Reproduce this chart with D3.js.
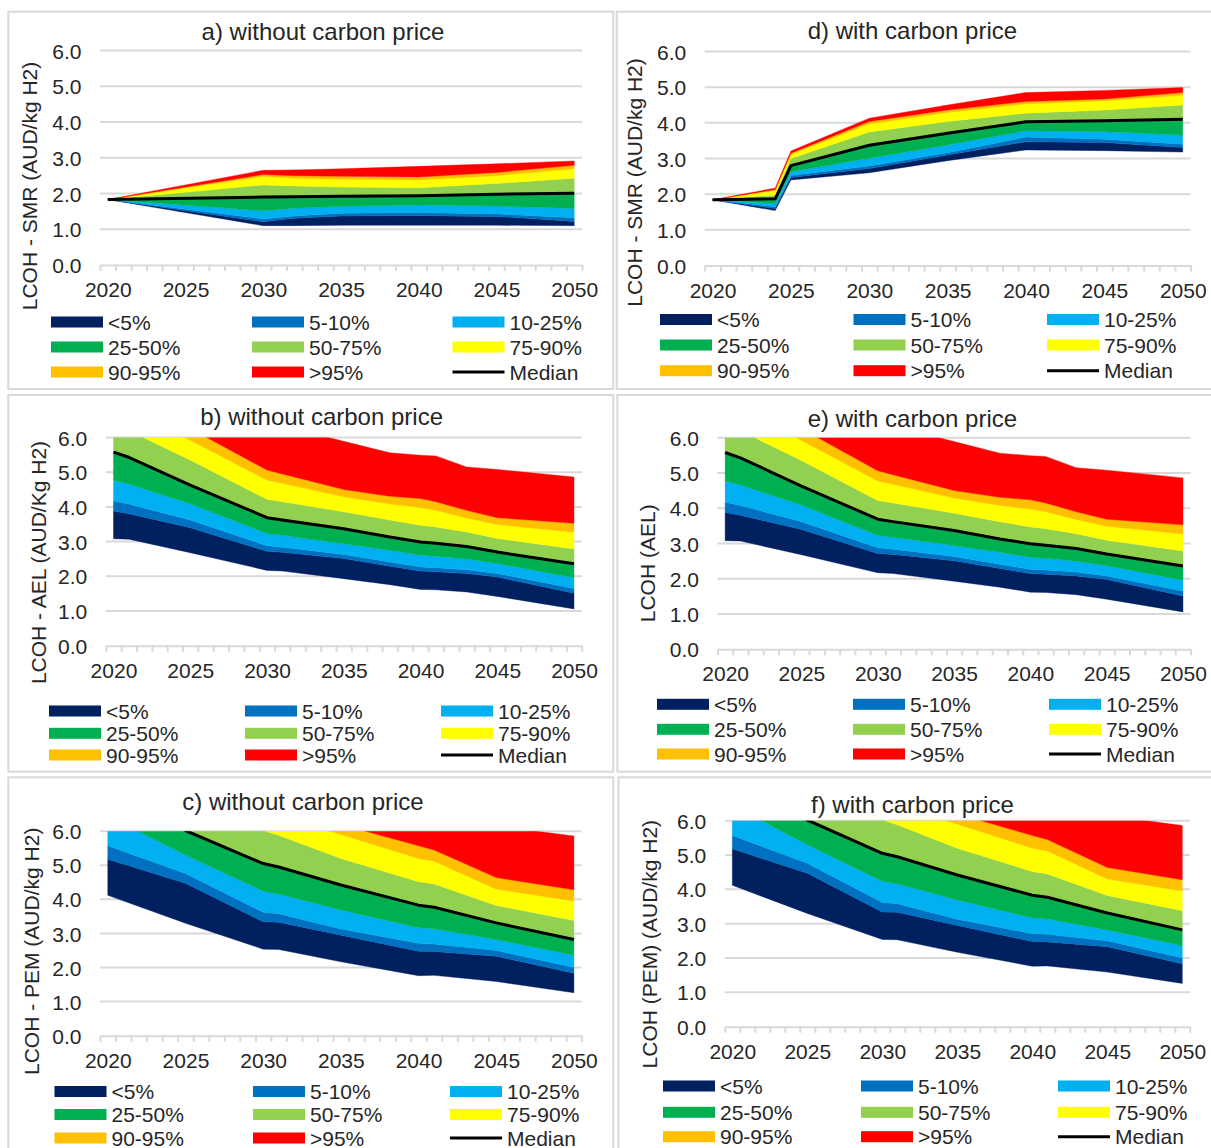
<!DOCTYPE html>
<html>
<head>
<meta charset="utf-8">
<script src="https://cdn.jsdelivr.net/npm/d3@7"></script>
<style>
  html, body { margin: 0; padding: 0; background: #fff; }
  svg { display: block; font-family: "Liberation Sans", Arial, sans-serif; }
</style>
</head>
<body>
<svg id="chart" width="1211" height="1148"></svg>
<script>
// Percentile bands (stacked between consecutive levels) and their colours
const bandLabels = ["<5%", "5-10%", "10-25%", "25-50%", "50-75%", "75-90%", "90-95%", ">95%"];
const bandColors = ["#002060", "#0070C0", "#00B0F0", "#00B050", "#92D050", "#FFFF00", "#FFC000", "#FF0000"];
const yTicks = [0, 1, 2, 3, 4, 5, 6];
const xLabelYears = [2020, 2025, 2030, 2035, 2040, 2045, 2050];

// LCOH, SMR without carbon price (AUD/kg H2); rows: min, p5, p10, p25, p50, p75, p90, p95, max
const smrYears = [2020, 2030, 2032, 2035, 2040, 2045, 2050];
const smrLevels = [
  [1.83, 1.10, 1.10, 1.11, 1.11, 1.11, 1.10],
  [1.83, 1.21, 1.31, 1.37, 1.38, 1.36, 1.22],
  [1.83, 1.29, 1.37, 1.45, 1.47, 1.43, 1.32],
  [1.83, 1.52, 1.59, 1.64, 1.68, 1.65, 1.58],
  [1.83, 1.90, 1.91, 1.92, 1.94, 1.98, 2.01],
  [1.83, 2.24, 2.21, 2.18, 2.16, 2.28, 2.43],
  [1.83, 2.48, 2.43, 2.40, 2.38, 2.50, 2.69],
  [1.83, 2.53, 2.50, 2.48, 2.46, 2.59, 2.79],
  [1.83, 2.65, 2.66, 2.69, 2.76, 2.83, 2.91]
];

// LCOH, SMR with carbon price
const smrCarbonYears = [2020, 2024, 2025, 2030, 2035, 2040, 2045, 2050];
const smrCarbonLevels = [
  [1.84, 1.54, 2.40, 2.60, 2.94, 3.24, 3.22, 3.18],
  [1.84, 1.60, 2.47, 2.72, 3.10, 3.47, 3.45, 3.31],
  [1.84, 1.65, 2.52, 2.79, 3.16, 3.60, 3.54, 3.40],
  [1.84, 1.74, 2.63, 3.01, 3.38, 3.78, 3.75, 3.66],
  [1.84, 1.87, 2.80, 3.37, 3.71, 4.03, 4.06, 4.10],
  [1.84, 1.98, 3.00, 3.74, 4.04, 4.27, 4.36, 4.50],
  [1.84, 2.10, 3.11, 3.97, 4.29, 4.53, 4.62, 4.77],
  [1.84, 2.13, 3.15, 4.04, 4.36, 4.60, 4.67, 4.85],
  [1.84, 2.17, 3.21, 4.13, 4.50, 4.85, 4.91, 4.99]
];

// LCOH, alkaline electrolysis (same with and without carbon price)
const aelYears = [2020, 2021, 2025, 2030, 2031, 2035, 2038, 2040, 2041, 2043, 2045, 2050];
const aelLevels = [
  [3.08, 3.07, 2.68, 2.17, 2.15, 1.93, 1.76, 1.62, 1.61, 1.55, 1.42, 1.06],
  [3.88, 3.80, 3.40, 2.72, 2.69, 2.51, 2.29, 2.15, 2.13, 2.08, 1.98, 1.51],
  [4.17, 4.08, 3.62, 2.88, 2.84, 2.63, 2.41, 2.27, 2.25, 2.19, 2.08, 1.65],
  [4.77, 4.66, 4.09, 3.23, 3.18, 2.94, 2.75, 2.61, 2.58, 2.50, 2.37, 1.96],
  [5.58, 5.43, 4.63, 3.69, 3.62, 3.37, 3.13, 2.99, 2.95, 2.86, 2.70, 2.36],
  [6.40, 6.20, 5.35, 4.22, 4.15, 3.86, 3.62, 3.47, 3.42, 3.28, 3.09, 2.79],
  [7.00, 6.80, 5.92, 4.77, 4.68, 4.29, 4.08, 3.98, 3.90, 3.68, 3.49, 3.27],
  [7.40, 7.20, 6.26, 5.06, 4.95, 4.50, 4.31, 4.24, 4.15, 3.90, 3.69, 3.53],
  [8.40, 8.20, 7.30, 6.44, 6.33, 5.89, 5.56, 5.49, 5.47, 5.15, 5.08, 4.86]
];

// LCOH, PEM electrolysis (same with and without carbon price)
const pemYears = [2020, 2025, 2030, 2031, 2035, 2040, 2041, 2045, 2050];
const pemLevels = [
  [4.12, 3.30, 2.54, 2.53, 2.17, 1.76, 1.77, 1.59, 1.26],
  [5.18, 4.47, 3.34, 3.33, 2.95, 2.48, 2.47, 2.33, 1.83],
  [5.57, 4.76, 3.62, 3.58, 3.13, 2.71, 2.69, 2.50, 2.00],
  [6.45, 5.30, 4.24, 4.16, 3.69, 3.17, 3.14, 2.82, 2.36],
  [7.10, 6.02, 5.05, 4.95, 4.42, 3.83, 3.77, 3.31, 2.82],
  [7.80, 6.90, 6.02, 5.88, 5.20, 4.52, 4.45, 3.82, 3.38],
  [8.20, 7.40, 6.56, 6.45, 5.90, 5.20, 5.12, 4.30, 3.95],
  [9.00, 8.00, 7.00, 6.90, 6.20, 5.57, 5.45, 4.64, 4.28],
  [9.50, 8.80, 8.00, 7.90, 7.40, 6.70, 6.60, 6.15, 5.86]
];

// Panel layout: frame, plot area, title, axis title and legend placement
const panels = [
  { id: "a", title: "a) without carbon price", yTitle: "LCOH - SMR (AUD/kg H2)", years: smrYears, levels: smrLevels,
    box: [8.3, 11.7, 613.3, 389], plot: [100, 50.5, 582, 265], titleXY: [323, 31.5], yTitleXY: [29.5, 186],
    legendCols: [51, 252, 452.5], legendRows: [322, 347, 372] },
  { id: "d", title: "d) with carbon price", yTitle: "LCOH - SMR (AUD/kg H2)", years: smrCarbonYears, levels: smrCarbonLevels,
    box: [616.7, 11.7, 1214, 389], plot: [704.7, 51.5, 1190.6, 265.5], titleXY: [912.4, 30.7], yTitleXY: [634, 182.5],
    legendCols: [660, 853.5, 1047], legendRows: [319.5, 345, 370.7] },
  { id: "b", title: "b) without carbon price", yTitle: "LCOH - AEL (AUD/Kg H2)", years: aelYears, levels: aelLevels,
    box: [8.3, 395, 613.3, 771.7], plot: [105.8, 437.5, 581.7, 645.7], titleXY: [321.6, 416.7], yTitleXY: [38, 562.5],
    legendCols: [49, 245, 441], legendRows: [711, 733.3, 755] },
  { id: "e", title: "e) with carbon price", yTitle: "LCOH (AEL)", years: aelYears, levels: aelLevels,
    box: [617.4, 395, 1214, 771.7], plot: [717.5, 437.7, 1190.6, 649.3], titleXY: [912.4, 418.3], yTitleXY: [647.5, 563.3],
    legendCols: [657, 853, 1049], legendRows: [704.3, 729.3, 754] },
  { id: "c", title: "c) without carbon price", yTitle: "LCOH - PEM (AUD/kg H2)", years: pemYears, levels: pemLevels,
    box: [8.3, 777.3, 613.3, 1152], plot: [100, 831.2, 581.7, 1035.7], titleXY: [303, 801.7], yTitleXY: [31, 951.3],
    legendCols: [54.5, 253, 450], legendRows: [1091.5, 1114.5, 1138] },
  { id: "f", title: "f) with carbon price", yTitle: "LCOH (PEM) (AUD/kg H2)", years: pemYears, levels: pemLevels,
    box: [618.5, 777.3, 1214, 1152], plot: [724.8, 820.7, 1189.8, 1026.7], titleXY: [912.4, 804.3], yTitleXY: [649.5, 944.2],
    legendCols: [663, 861, 1058], legendRows: [1086, 1112.3, 1136.7] }
];

const textColor = "#262626";
const gridColor = "#d9d9d9";
const svg = d3.select("#chart");
const defs = svg.append("defs");

panels.forEach(drawPanel);

function drawPanel(p) {
  const g = svg.append("g").attr("class", "panel-" + p.id);
  const [left, top, right, bottom] = p.plot;

  // chart frame
  g.append("rect")
    .attr("x", p.box[0]).attr("y", p.box[1])
    .attr("width", p.box[2] - p.box[0]).attr("height", p.box[3] - p.box[1])
    .attr("fill", "none").attr("stroke", gridColor).attr("stroke-width", 2);

  // category-style year axis: each year sits in the middle of its slot
  const x = d3.scaleLinear().domain([2019.5, 2050.5]).range([left, right]);
  const y = d3.scaleLinear().domain([0, 6]).range([bottom, top]);

  // horizontal gridlines
  g.append("g").selectAll("line")
    .data(yTicks.filter(v => v > 0))
    .join("line")
    .attr("x1", left).attr("x2", right)
    .attr("y1", d => y(d)).attr("y2", d => y(d))
    .attr("stroke", gridColor).attr("stroke-width", 2);

  // clip the bands to the value range 0-6
  const clipId = "clip-" + p.id;
  defs.append("clipPath").attr("id", clipId)
    .append("rect").attr("x", left).attr("y", top)
    .attr("width", right - left).attr("height", bottom - top);

  const rows = p.years.map((yr, i) => ({ year: yr, v: p.levels.map(level => level[i]) }));
  const plotG = g.append("g").attr("clip-path", `url(#${clipId})`);

  bandColors.forEach((color, b) => {
    const area = d3.area()
      .x(d => x(d.year))
      .y0(d => y(d.v[b]))
      .y1(d => y(d.v[b + 1]));
    plotG.append("path").datum(rows)
      .attr("d", area)
      .attr("fill", color)
      .attr("stroke", color).attr("stroke-width", 0.4);
  });

  // median line
  const medianLine = d3.line().x(d => x(d.year)).y(d => y(d.v[4]));
  plotG.append("path").datum(rows)
    .attr("d", medianLine)
    .attr("fill", "none").attr("stroke", "#000").attr("stroke-width", 3)
    .attr("stroke-linejoin", "round");

  // x axis: tick marks between years, labels every five years
  const xTickAxis = d3.axisBottom(x)
    .tickValues(d3.range(2019.5, 2051, 1))
    .tickSize(6).tickSizeOuter(0).tickFormat("");
  g.append("g").attr("transform", `translate(0,${y(0)})`)
    .call(xTickAxis)
    .call(a => {
      a.select(".domain").attr("stroke", gridColor).attr("stroke-width", 2);
      a.selectAll(".tick line").attr("stroke", gridColor).attr("stroke-width", 2);
    });

  const xLabelAxis = d3.axisBottom(x)
    .tickValues(xLabelYears).tickSize(0).tickFormat(d3.format("d"));
  g.append("g").attr("transform", `translate(0,${y(0)})`)
    .call(xLabelAxis)
    .call(a => {
      a.select(".domain").remove();
      a.attr("font-size", null).attr("font-family", null);
      a.selectAll("text")
        .attr("y", 24.5).attr("dy", "0.36em")
        .attr("fill", textColor).style("font-size", "21px");
    });

  // y axis labels
  const yAxis = d3.axisLeft(y)
    .tickValues(yTicks).tickSize(0).tickPadding(18.5)
    .tickFormat(d3.format(".1f"));
  g.append("g").attr("transform", `translate(${left},0)`)
    .call(yAxis)
    .call(a => {
      a.select(".domain").remove();
      a.attr("font-size", null).attr("font-family", null);
      a.selectAll("text").attr("dy", "0.36em")
        .attr("fill", textColor).style("font-size", "21px");
    });

  // chart title
  g.append("text")
    .attr("x", p.titleXY[0]).attr("y", p.titleXY[1]).attr("dy", "0.36em")
    .attr("text-anchor", "middle").attr("fill", textColor)
    .style("font-size", "24px")
    .text(p.title);

  // y axis title
  g.append("text")
    .attr("transform", `translate(${p.yTitleXY[0]},${p.yTitleXY[1]}) rotate(-90)`)
    .attr("dy", "0.36em")
    .attr("text-anchor", "middle").attr("fill", textColor)
    .style("font-size", "21px")
    .text(p.yTitle);

  // legend: 3 x 3 grid, bands then the median line
  const legendItems = bandLabels.map((label, i) => ({ label, color: bandColors[i], kind: "band" }))
    .concat([{ label: "Median", color: "#000", kind: "line" }]);
  const lg = g.append("g");
  legendItems.forEach((item, k) => {
    const sx = p.legendCols[k % 3];
    const cy = p.legendRows[Math.floor(k / 3)];
    if (item.kind === "band") {
      lg.append("rect").attr("x", sx).attr("y", cy - 5.5)
        .attr("width", 52).attr("height", 11).attr("fill", item.color);
    } else {
      lg.append("line").attr("x1", sx).attr("x2", sx + 52)
        .attr("y1", cy).attr("y2", cy)
        .attr("stroke", item.color).attr("stroke-width", 3);
    }
    lg.append("text").attr("x", sx + 57).attr("y", cy).attr("dy", "0.36em")
      .attr("fill", textColor).style("font-size", "21px")
      .text(item.label);
  });
}
</script>
</body>
</html>
